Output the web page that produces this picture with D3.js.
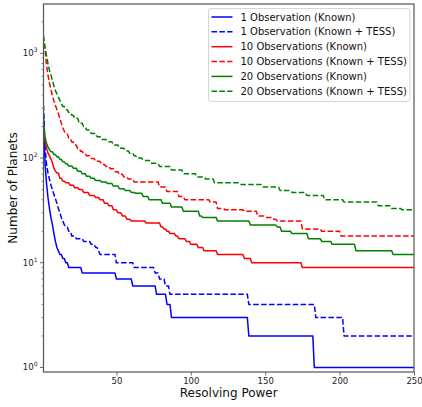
<!DOCTYPE html>
<html>
<head>
<meta charset="utf-8">
<script src="https://cdn.jsdelivr.net/npm/d3@7"></script>
<style>
  html, body { margin: 0; padding: 0; background: #fff; }
  svg { display: block; font-family: "DejaVu Sans", sans-serif; }
</style>
</head>
<body>
<svg id="chart" width="422" height="407"></svg>
<script>
// ---- Data (step breakpoints: resolving power -> number of planets) ----
const obs1KnownX = [1,2,3,4,5,6,7,8,9,10,11,12,14,16,18,27,50,61,77,84,87,139,183,250];
const obs1KnownN = [260,90,58,42,33,27,23,19,16,14,13,12,11,10,9,8,7,6,5,4,3,2,1,1];

const obs1TessX = [1,2,3,4,5,6,7,8,9,10,11,12,13,14,15,16,18,20,23,28,33,36,38,39,50,62,76,79,83,86,139,184,203,250];
const obs1TessN = [320,130,88,72,63,55,50,45,41,37,33,30,27,25,23,22,20,18,17,16,15,14,13,12,10,9,8,7,6,5,4,3,2,2];

const obs10KnownX = [1,2,3,4,5,6,7,8,9,10,12,14,16,19,22,25,28,32,36,39,42,45,48,51,54,57,60,70,80,82,84,86,90,92,97,100,105,109,118,136,141,175,250];
const obs10KnownN = [190,148,125,112,105,98,90,80,75,72,64,60,58,55,52,50,47,44,42,40,37,35,32,30,28,26,25,24,22,21,20,19,18,17,16,15,14,13,12,11,10,9,9];

const obs10TessX = [1,2,3,4,5,6,7,8,9,10,11,12,13,14,15,16,18,20,22,24,26,28,30,33,36,40,43,46,49,52,55,58,62,79,84,92,96,113,118,123,136,145,150,155,158,175,188,201,250];
const obs10TessN = [1250,1100,780,620,520,450,390,350,320,290,265,240,215,195,180,170,155,142,133,123,116,110,105,99,93,87,83,79,74,70,66,63,59,53,48,43,40,38,33,32,31,28,27,26,25,21,20,18,18];

const obs20KnownX = [1,2,3,4,5,6,8,10,12,14,16,18,21,24,27,30,33,36,40,44,48,52,56,60,63,68,72,81,87,95,106,108,118,140,158,161,168,179,188,195,211,236,250];
const obs20KnownN = [210,160,138,128,120,115,108,103,97,92,88,84,80,75,71,67,64,61,59,57,54,51,49,47,46,43,40,37,34,31,28,27,25,23,22,20,19,17,16,15,13,12,12];

const obs20TessX = [1,2,3,4,5,6,7,8,9,10,11,12,13,14,16,18,20,22,25,28,30,33,37,40,44,48,52,56,59,62,64,68,73,79,87,95,104,110,116,133,148,160,168,178,190,203,226,235,242,250];
const obs20TessN = [1480,1150,950,800,690,620,550,490,440,410,380,355,330,310,290,272,257,240,215,200,185,172,160,150,143,133,124,117,111,105,100,95,89,83,77,71,66,63,58,56,53,49,47,44,40,38,35,33,32,32];

const seriesLabels = [
  "1 Observation (Known)",
  "1 Observation (Known + TESS)",
  "10 Observations (Known)",
  "10 Observations (Known + TESS)",
  "20 Observations (Known)",
  "20 Observations (Known + TESS)"
];
const seriesColors = ["#0000ff","#0000ff","#ff0000","#ff0000","#008000","#008000"];
const seriesDashed = [false,true,false,true,false,true];
const seriesX = [obs1KnownX, obs1TessX, obs10KnownX, obs10TessX, obs20KnownX, obs20TessX];
const seriesN = [obs1KnownN, obs1TessN, obs10KnownN, obs10TessN, obs20KnownN, obs20TessN];

const xTicks = [50,100,150,200,250];
const yTickExps = [0,1,2,3];

// ---- Layout ----
const L = 43.5, R = 414, T = 4, B = 372;
const svg = d3.select("#chart");

const x = d3.scaleLinear().domain([1, 250]).range([L, R]);
const y = d3.scaleLog().domain([0.905, 2960]).range([B, T]);

svg.append("defs").append("clipPath").attr("id","plotclip")
  .append("rect").attr("x", L).attr("y", T).attr("width", R-L).attr("height", B-T);

// Values are sampled on an integer grid: a level holds until one unit before the next change,
// then the line joins linearly to the new level (as in the original plot).
function gridPoints(xs, ns) {
  const pts = [[xs[0], ns[0]]];
  for (let j = 1; j < xs.length; j++) {
    if (xs[j] - 1 > xs[j-1]) pts.push([xs[j] - 1, ns[j-1]]);
    pts.push([xs[j], ns[j]]);
  }
  return pts;
}

const line = d3.line().x(d => x(d[0])).y(d => y(d[1]));
const g = svg.append("g").attr("clip-path","url(#plotclip)");
seriesX.forEach((xs, i) => {
  g.append("path")
    .attr("d", line(gridPoints(xs, seriesN[i])))
    .attr("fill","none")
    .attr("stroke", seriesColors[i])
    .attr("stroke-width", 1.5)
    .attr("stroke-linejoin", "round")
    .attr("stroke-dasharray", seriesDashed[i] ? "5.5,2.4" : null);
});

// axes
const axisColor = "#444";
const xAxis = d3.axisBottom(x).tickValues(xTicks).tickSize(3.5).tickPadding(2.5).tickFormat(d3.format("d"));
const gx = svg.append("g").attr("transform", `translate(0,${B})`).call(xAxis);
gx.select(".domain").remove();
gx.selectAll(".tick line").attr("stroke", axisColor).attr("stroke-width", 0.8);
gx.selectAll(".tick text").attr("font-size", "8.5px").attr("fill", "#222")
  .attr("font-family", "DejaVu Sans, sans-serif");

const minorVals = [];
for (let e = 0; e <= 3; e++) for (let m = 2; m <= 9; m++) {
  const v = m * Math.pow(10, e);
  if (v >= 0.905 && v <= 2960) minorVals.push(v);
}
const gy = svg.append("g");
gy.selectAll("line.minor").data(minorVals).enter().append("line")
  .attr("x1", L - 2).attr("x2", L).attr("y1", d => y(d)).attr("y2", d => y(d))
  .attr("stroke", axisColor).attr("stroke-width", 0.6);
gy.selectAll("line.major").data(yTickExps).enter().append("line")
  .attr("x1", L - 3.5).attr("x2", L).attr("y1", d => y(Math.pow(10, d))).attr("y2", d => y(Math.pow(10, d)))
  .attr("stroke", axisColor).attr("stroke-width", 0.8);
const yl = gy.selectAll("text.ytl").data(yTickExps).enter().append("text")
  .attr("x", L - 6).attr("y", d => y(Math.pow(10, d)) + 3)
  .attr("text-anchor","end").attr("font-size","8.5px").attr("fill","#222");
yl.append("tspan").text("10");
yl.append("tspan").attr("dy", -4).attr("font-size","6px").text(d => String(d));

svg.append("rect").attr("x", L).attr("y", T).attr("width", R-L).attr("height", B-T)
  .attr("fill","none").attr("stroke", "#555").attr("stroke-width", 1.2);

svg.append("text").attr("x", (L+R)/2).attr("y", 397).attr("text-anchor","middle")
  .attr("font-size","12px").attr("fill","#111").text("Resolving Power");
svg.append("text").attr("transform", `translate(17,${(T+B)/2}) rotate(-90)`)
  .attr("text-anchor","middle").attr("font-size","12px").attr("fill","#111").text("Number of Planets");

const lg = svg.append("g");
lg.append("rect").attr("x", 208.5).attr("y", 8.5).attr("width", 201.5).attr("height", 93)
  .attr("rx", 2.5).attr("fill","#fff").attr("fill-opacity",0.8).attr("stroke","#cccccc").attr("stroke-width",0.8);
seriesLabels.forEach((lab, i) => {
  const yy = 17 + i * 14.85;
  lg.append("line").attr("x1", 211.5).attr("x2", 232.5).attr("y1", yy).attr("y2", yy)
    .attr("stroke", seriesColors[i]).attr("stroke-width", 1.5)
    .attr("stroke-dasharray", seriesDashed[i] ? "5.5,2.4" : null);
  lg.append("text").attr("x", 240.5).attr("y", yy + 3.6).attr("font-size","10px").attr("fill","#111").text(lab);
});
</script>
</body>
</html>
